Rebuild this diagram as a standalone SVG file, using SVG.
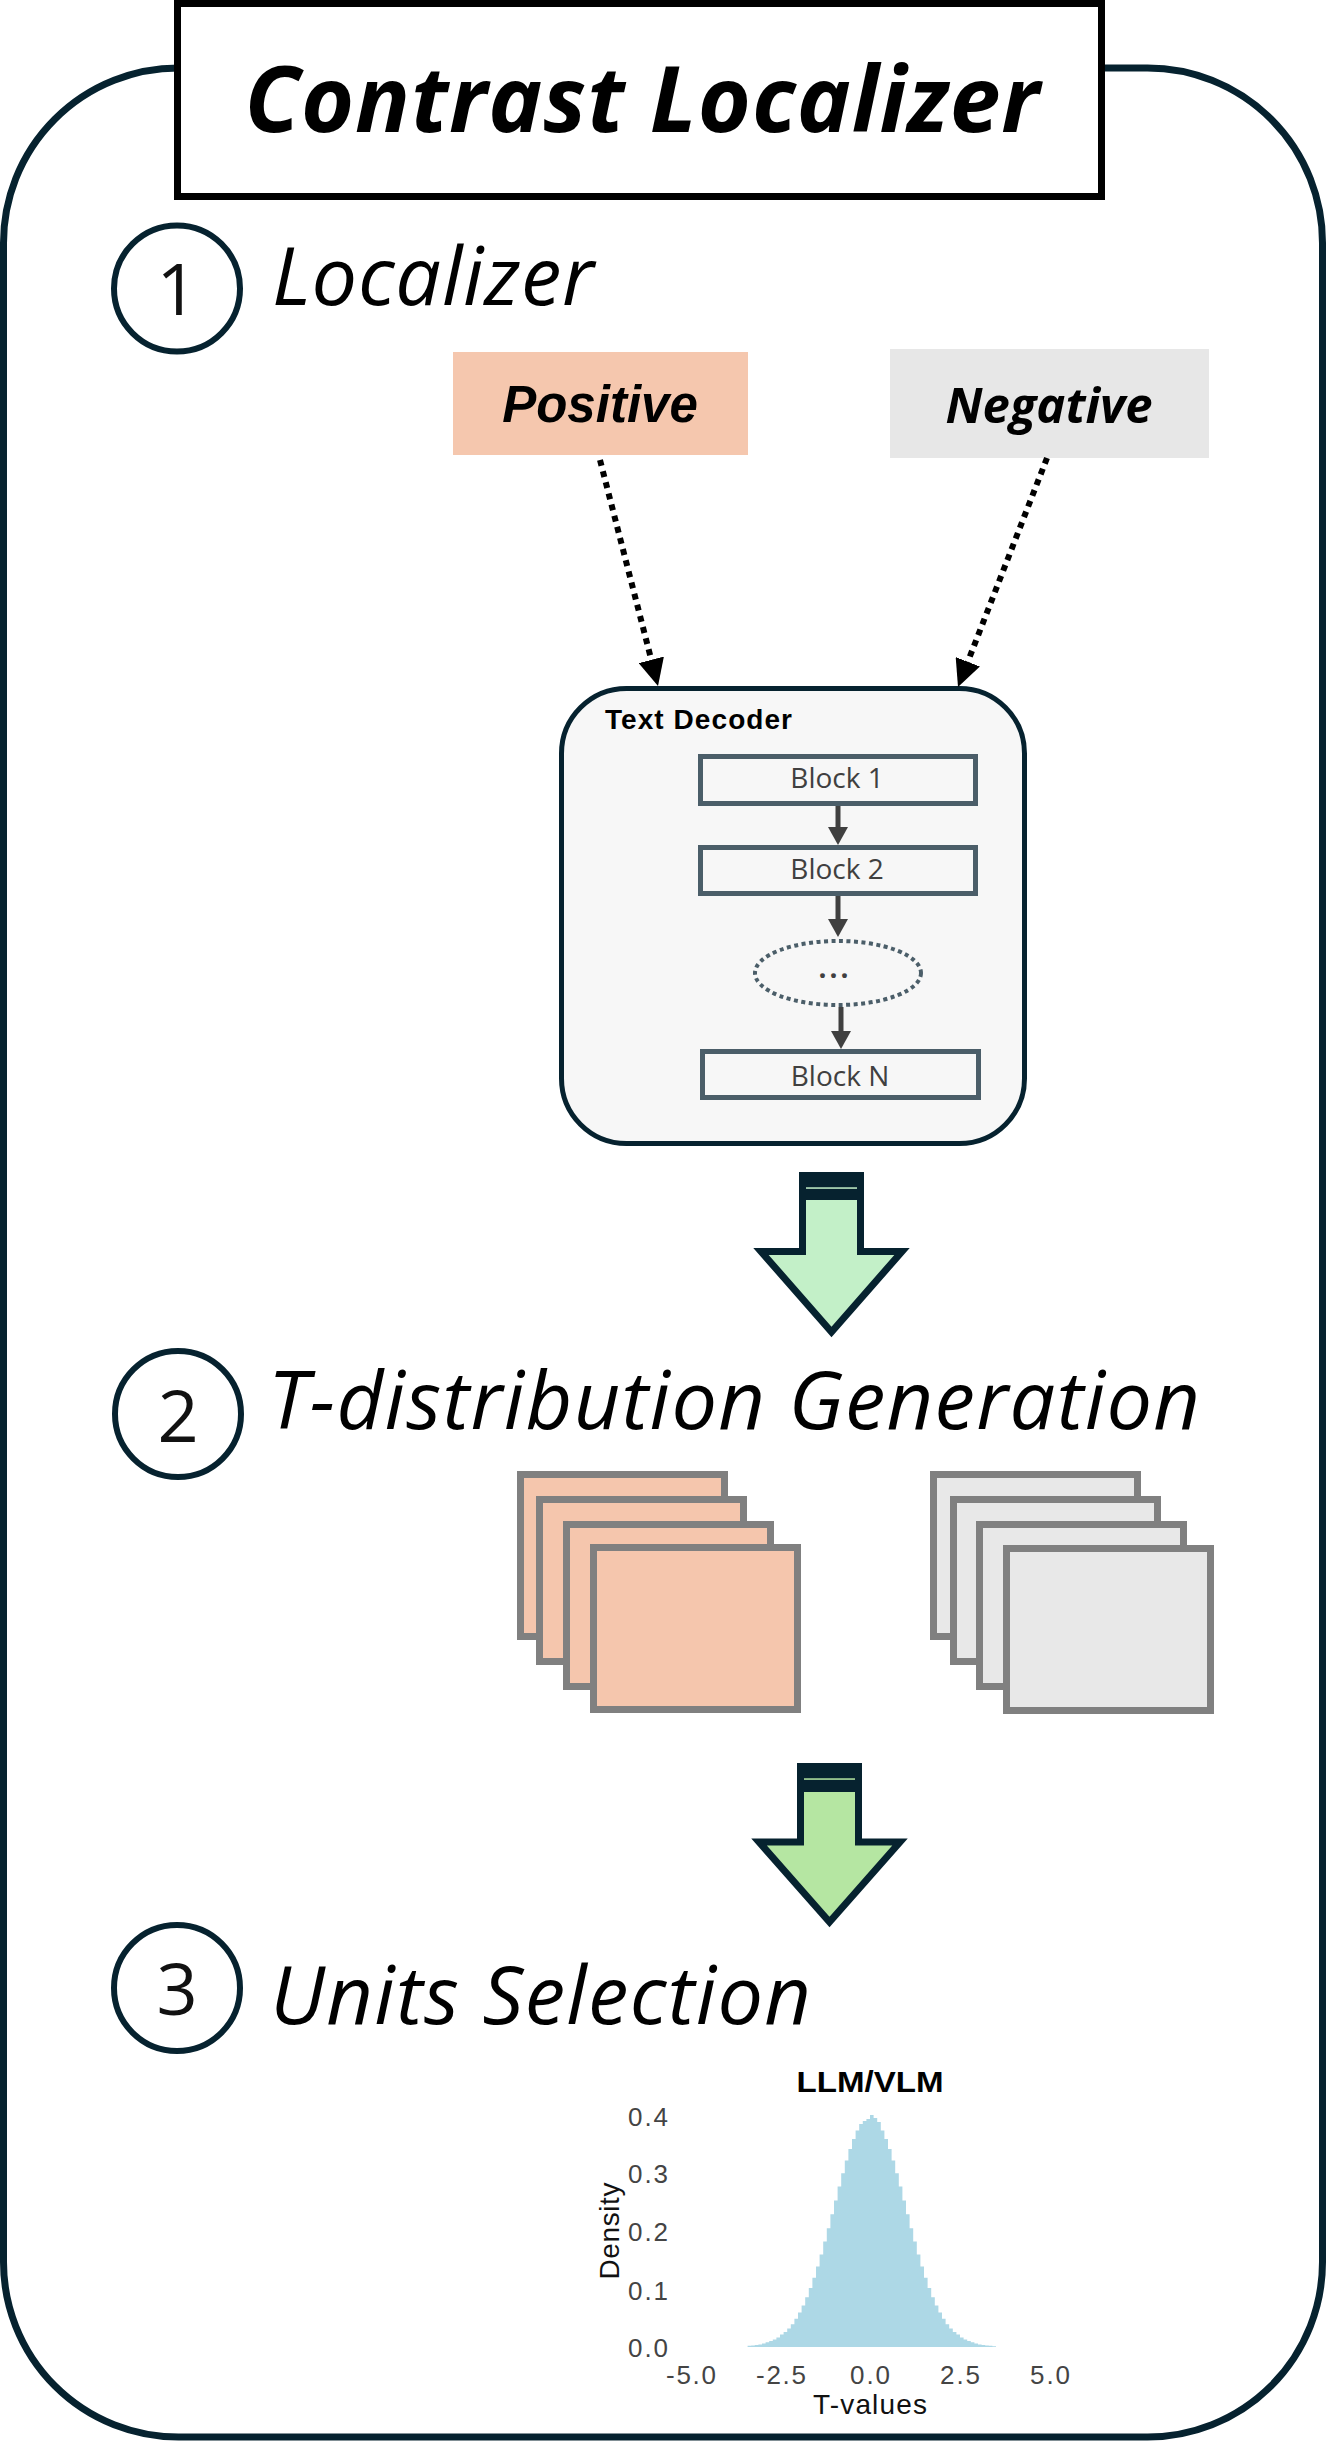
<svg xmlns="http://www.w3.org/2000/svg" width="1328" height="2441" viewBox="0 0 1328 2441">
  <defs>
    <style>
      .navy { stroke: #06222F; fill: none; }
      .step-circle { fill: none; stroke: #06222F; stroke-width: 6; }
      .step-num { font-family: "Open Sans", "Noto Sans", sans-serif; font-size: 72px; fill: #111; text-anchor: middle; }
      .step-title { font-family: "Open Sans", "Noto Sans", sans-serif; font-style: italic; font-size: 81px; fill: #000; }
      .block { fill: #F7F7F7; stroke: #4B5E69; stroke-width: 5; }
      .block-text { font-family: "Open Sans", "Noto Sans", sans-serif; font-size: 28px; fill: #404040; text-anchor: middle; }
      .card-pos { fill: #F5C6AD; stroke: #808080; stroke-width: 7; }
      .card-neg { fill: #E8E8E8; stroke: #808080; stroke-width: 7; }
      .dotted { stroke: #000; stroke-width: 6; stroke-dasharray: 6 5.5; fill: none; }
      .inner-arrow { stroke: #404040; stroke-width: 5; fill: none; }
      .tick { font-family: "Liberation Sans", Arial, sans-serif; font-size: 26px; fill: #444444; }
      .axis-title { font-family: "Liberation Sans", Arial, sans-serif; font-size: 28px; fill: #111111; }
      .big-arrow { stroke: #06222F; stroke-width: 7; stroke-linejoin: miter; }
    </style>
    <marker id="dot-head" viewBox="0 0 27 26" refX="0" refY="13" markerWidth="27" markerHeight="26" markerUnits="userSpaceOnUse" orient="auto">
      <path d="M0,0 L27,13 L0,26 Z" fill="#000"/>
    </marker>
    <marker id="inner-head" viewBox="0 0 18 20" refX="0" refY="10" markerWidth="18" markerHeight="20" markerUnits="userSpaceOnUse" orient="auto">
      <path d="M0,0 L18,10 L0,20 Z" fill="#404040"/>
    </marker>
  </defs>

  <rect width="1328" height="2441" fill="#FFFFFF"/>

  <!-- outer frame -->
  <g id="frame">
    <rect x="3.5" y="68" width="1319" height="2369" rx="175" ry="175" class="navy" stroke-width="7"/>
  </g>

  <!-- title -->
  <g id="title">
    <rect x="177.5" y="3.5" width="924" height="193" fill="#FFFFFF" stroke="#000" stroke-width="7"/>
    <text x="642" y="132" text-anchor="middle" font-family="'Open Sans', 'Noto Sans', sans-serif" font-weight="bold" font-style="italic" font-size="91" fill="#000" textLength="795" lengthAdjust="spacing">Contrast Localizer</text>
  </g>

  <!-- step 1 -->
  <g id="step1">
    <circle cx="177" cy="288.5" r="63" class="step-circle"/>
    <text x="177" y="315" class="step-num">1</text>
    <text x="272" y="305" class="step-title" textLength="322" lengthAdjust="spacing">Localizer</text>
  </g>

  <g id="positive">
    <rect x="453" y="352" width="295" height="103" fill="#F5C7AE"/>
    <text x="600" y="422" text-anchor="middle" font-family="'Liberation Sans', Arial, sans-serif" font-weight="bold" font-style="italic" font-size="51" fill="#000">Positive</text>
  </g>

  <g id="negative">
    <rect x="890" y="349" width="319" height="109" fill="#E7E7E7"/>
    <text x="1049" y="423" text-anchor="middle" font-family="'Open Sans', 'Noto Sans', sans-serif" font-weight="bold" font-style="italic" font-size="49" fill="#000">Negative</text>
  </g>

  <!-- text decoder -->
  <g id="text-decoder">
    <rect x="561.5" y="688.5" width="463" height="455" rx="65" ry="65" fill="#F7F7F7" stroke="#06222F" stroke-width="5"/>
    <text x="605" y="729" font-family="'Liberation Sans', Arial, sans-serif" font-weight="bold" font-size="28" fill="#000" textLength="187" lengthAdjust="spacing">Text Decoder</text>
  </g>
  <g id="block1">
    <rect x="700.5" y="756.5" width="275" height="47" class="block"/>
    <text x="837" y="788" class="block-text">Block 1</text>
  </g>
  <g id="block2">
    <rect x="700.5" y="847.5" width="275" height="46" class="block"/>
    <text x="837" y="879" class="block-text">Block 2</text>
  </g>
  <g id="block-ellipsis">
    <ellipse cx="838" cy="973" rx="83" ry="32" fill="none" stroke="#4B5E69" stroke-width="4" stroke-dasharray="4 3.5"/>
    <text x="835" y="978" class="block-text" font-weight="bold" letter-spacing="3">...</text>
  </g>
  <g id="blockN">
    <rect x="702.5" y="1051.5" width="276" height="46" class="block"/>
    <text x="840" y="1086" class="block-text">Block N</text>
  </g>

  <!-- connectors -->
  <g id="connectors">
    <line x1="600" y1="460" x2="651.3" y2="659.8" class="dotted" marker-end="url(#dot-head)"/>
    <line x1="1047" y1="458" x2="967.8" y2="661.8" class="dotted" marker-end="url(#dot-head)"/>
    <line x1="838" y1="806" x2="838" y2="827" class="inner-arrow" marker-end="url(#inner-head)"/>
    <line x1="838" y1="896" x2="838" y2="919" class="inner-arrow" marker-end="url(#inner-head)"/>
    <line x1="841" y1="1007" x2="841" y2="1031" class="inner-arrow" marker-end="url(#inner-head)"/>
  </g>

  <!-- big arrow 1 -->
  <g id="big-arrow-1">
    <path d="M802.5,1175.5 H860.5 V1251.5 H902 L831.5,1332 L761,1251.5 H802.5 Z" fill="#C3F0C8" class="big-arrow"/>
    <rect x="799" y="1172" width="65" height="28" fill="#06222F"/>
    <rect x="806" y="1187.3" width="51" height="1.5" fill="#C3F0C8"/>
  </g>

  <!-- step 2 -->
  <g id="step2">
    <circle cx="178" cy="1414" r="63" class="step-circle"/>
    <text x="178" y="1442" class="step-num">2</text>
    <text x="268" y="1429" class="step-title" textLength="932" lengthAdjust="spacing">T-distribution Generation</text>
  </g>

  <g id="positive-stack">
    <rect x="520.5" y="1474.5" width="204" height="162" class="card-pos"/>
    <rect x="539.5" y="1499.5" width="204" height="162" class="card-pos"/>
    <rect x="566.5" y="1524.5" width="204" height="162" class="card-pos"/>
    <rect x="593.5" y="1547.5" width="204" height="162" class="card-pos"/>
  </g>
  <g id="negative-stack">
    <rect x="933.5" y="1474.5" width="204" height="162" class="card-neg"/>
    <rect x="953.5" y="1499.5" width="204" height="162" class="card-neg"/>
    <rect x="979.5" y="1524.5" width="204" height="162" class="card-neg"/>
    <rect x="1006.5" y="1548.5" width="204" height="162" class="card-neg"/>
  </g>

  <!-- big arrow 2 -->
  <g id="big-arrow-2">
    <path d="M800.5,1766.5 H858.5 V1842 H900 L829.5,1922 L759,1842 H800.5 Z" fill="#B5E6A2" class="big-arrow"/>
    <rect x="797" y="1763" width="65" height="29" fill="#06222F"/>
    <rect x="804" y="1778.3" width="51" height="1.5" fill="#B5E6A2"/>
  </g>

  <!-- step 3 -->
  <g id="step3">
    <circle cx="177" cy="1988" r="63" class="step-circle"/>
    <text x="177" y="2015" class="step-num">3</text>
    <text x="270" y="2024" class="step-title" textLength="541" lengthAdjust="spacing">Units Selection</text>
  </g>

  <!-- histogram -->
  <g id="histogram">
    <text x="870" y="2092" text-anchor="middle" font-family="'Liberation Sans', Arial, sans-serif" font-weight="bold" font-size="29" fill="#000" textLength="147" lengthAdjust="spacingAndGlyphs">LLM/VLM</text>
    <path fill="#ADD8E6" d="M747.6,2347 V2345.8 H751.2 V2345.5 H754.8 V2345 H758.4 V2344.4 H762 V2343.5 H765.6 V2342.2 H769.2 V2341 H772.8 V2339.5 H776.4 V2337.5 H780 V2334.5 H783.6 V2332 H787.2 V2328.5 H790.8 V2324.2 H794.4 V2318.8 H798 V2312.6 H801.6 V2305.4 H805.2 V2297.2 H808.8 V2288 H812.4 V2277.8 H816 V2266.5 H819.6 V2254.5 H823.2 V2241.6 H826.8 V2228.2 H830.4 V2214.3 H834 V2200.4 H837.6 V2186.6 H841.2 V2173.2 H844.8 V2160.6 H848.4 V2149.1 H852 V2139 H855.6 V2130.5 H859.2 V2123.9 H862.8 V2121 H866.4 V2119 H870 V2115 H873.6 V2118 H877.2 V2122 H880.8 V2130.5 H884.4 V2139 H888 V2149.1 H891.6 V2160.6 H895.2 V2173.2 H898.8 V2186.6 H902.4 V2200.4 H906 V2214.3 H909.6 V2228.2 H913.2 V2241.6 H916.8 V2254.5 H920.4 V2266.5 H924 V2277.8 H927.6 V2288 H931.2 V2297.2 H934.8 V2305.4 H938.4 V2312.6 H942 V2318.8 H945.6 V2324.2 H949.2 V2328.5 H952.8 V2332 H956.4 V2334.5 H960 V2337.5 H963.6 V2339.5 H967.2 V2341 H970.8 V2342.2 H974.4 V2343.5 H978 V2344.4 H981.6 V2345 H985.2 V2345.5 H988.8 V2345.8 H992.4 V2346.2 H996 V2347 Z"/>
    <text x="668" y="2126" class="tick" text-anchor="end" textLength="40">0.4</text>
    <text x="668" y="2183" class="tick" text-anchor="end" textLength="40">0.3</text>
    <text x="668" y="2241" class="tick" text-anchor="end" textLength="40">0.2</text>
    <text x="668" y="2300" class="tick" text-anchor="end" textLength="40">0.1</text>
    <text x="668" y="2357" class="tick" text-anchor="end" textLength="40">0.0</text>
    <text x="691" y="2384" class="tick" text-anchor="middle" textLength="50">-5.0</text>
    <text x="781" y="2384" class="tick" text-anchor="middle" textLength="50">-2.5</text>
    <text x="870" y="2384" class="tick" text-anchor="middle" textLength="40">0.0</text>
    <text x="960" y="2384" class="tick" text-anchor="middle" textLength="40">2.5</text>
    <text x="1050" y="2384" class="tick" text-anchor="middle" textLength="40">5.0</text>
    <text x="870" y="2414" class="axis-title" text-anchor="middle" textLength="114">T-values</text>
    <text x="0" y="0" class="axis-title" text-anchor="middle" textLength="97" transform="translate(619,2231) rotate(-90)">Density</text>
  </g>
</svg>
